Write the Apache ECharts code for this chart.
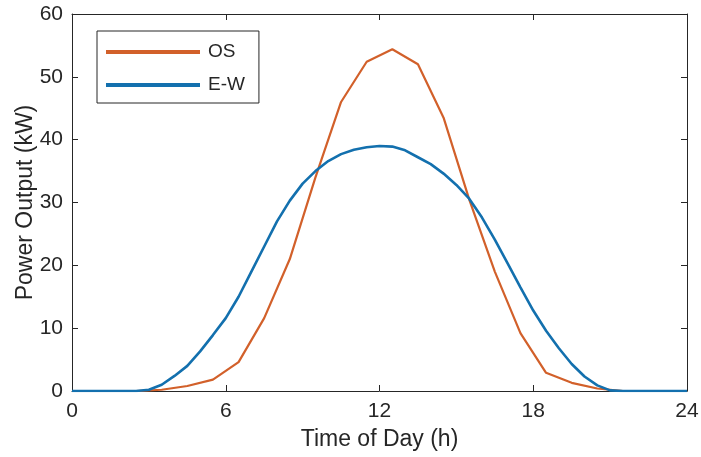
<!DOCTYPE html>
<html>
<head>
<meta charset="utf-8">
<script src="https://cdn.jsdelivr.net/npm/echarts@6/dist/echarts.min.js"></script>
<style>
  html, body { margin: 0; padding: 0; background: #fff; }
  #chart { width: 701px; height: 457px; }
</style>
</head>
<body>
<div id="chart"></div>
<script>
// hours for the OS curve (hourly samples at half past)
var osHours = [0, 0.5, 1.5, 2.5, 3.5, 4.5, 5.5, 6.5, 7.5, 8.5, 9.5, 10.5, 11.5,
    12.5, 13.5, 14.5, 15.5, 16.5, 17.5, 18.5, 19.5, 20.5, 21.5, 22.5, 23.5, 24];
var osPower = [0, 0, 0, 0, 0.2, 0.8, 1.8, 4.6, 11.6, 21, 34, 46, 52.4,
    54.4, 52, 43.5, 30.5, 19, 9.2, 2.9, 1.3, 0.4, 0, 0, 0, 0];

// hours for the E-W curve (half-hour samples)
var ewHours = [0, 0.5, 1, 1.5, 2, 2.5, 3, 3.5, 4, 4.5, 5, 5.5, 6, 6.5, 7, 7.5, 8, 8.5,
    9, 9.5, 10, 10.5, 11, 11.5, 12, 12.5, 13, 13.5, 14, 14.5, 15, 15.5, 16, 16.5,
    17, 17.5, 18, 18.5, 19, 19.5, 20, 20.5, 21, 21.5, 22, 22.5, 23, 23.5, 24];
var ewPower = [0, 0, 0, 0, 0, 0, 0.2, 1.0, 2.4, 4.0, 6.3, 8.9, 11.6, 15.0, 19.0, 23.0, 27.0, 30.3,
    33.0, 35.0, 36.6, 37.7, 38.4, 38.8, 39.0, 38.9, 38.3, 37.2, 36.1, 34.6, 32.8, 30.6, 27.6, 24.1,
    20.3, 16.5, 12.8, 9.6, 6.8, 4.3, 2.3, 0.9, 0.1, 0, 0, 0, 0, 0, 0];

var xTicks = [0, 6, 12, 18, 24];
var yTicks = [0, 10, 20, 30, 40, 50, 60];

function pairs(xs, ys) {
    var out = [];
    for (var i = 0; i < xs.length; i++) {
        out.push([xs[i], ys[i]]);
    }
    return out;
}

var ink = '#262626';
var font = 'Arial, "Liberation Sans", Helvetica, sans-serif';

// one axis side of the box; labels only on bottom/left
function axisSide(pos, ticks, step, extra) {
    var a = {
        type: 'value',
        position: pos,
        min: ticks[0],
        max: ticks[ticks.length - 1],
        interval: step,
        axisLine: { show: true, onZero: false, lineStyle: { color: ink, width: 1 } },
        axisTick: { show: true, inside: true, length: 6, lineStyle: { color: ink } },
        axisLabel: { show: false },
        splitLine: { show: false }
    };
    for (var k in extra) a[k] = extra[k];
    return a;
}

var myChart = echarts.init(document.getElementById('chart'));
var option = {
    backgroundColor: '#fff',
    animation: false,
    grid: { left: 72, right: 14, top: 14, bottom: 66, outerBoundsMode: 'none' },
    legend: {
        orient: 'vertical',
        left: 97,
        top: 31,
        padding: [11, 14, 8, 9],
        itemGap: 13,
        icon: 'rect',
        itemWidth: 94,
        itemHeight: 4,
        borderColor: ink,
        borderWidth: 1,
        backgroundColor: '#fff',
        textStyle: { color: ink, fontSize: 19, fontFamily: font, lineHeight: 20, padding: [0, 0, 0, 3] },
        data: ['OS', 'E-W']
    },
    xAxis: [
        axisSide('bottom', xTicks, 6, {
            name: 'Time of Day (h)',
            nameLocation: 'middle',
            nameGap: 37,
            nameTextStyle: { color: ink, fontSize: 23, fontFamily: font },
            axisLabel: { color: ink, fontSize: 21, fontFamily: font, margin: 10 }
        }),
        axisSide('top', xTicks, 6, {})
    ],
    yAxis: [
        axisSide('left', yTicks, 10, {
            name: 'Power Output (kW)',
            nameLocation: 'middle',
            nameGap: 35,
            nameMoveOverlap: false,
            nameTextStyle: { color: ink, fontSize: 23, fontFamily: font },
            axisLabel: { color: ink, fontSize: 21, fontFamily: font, margin: 9 }
        }),
        axisSide('right', yTicks, 10, {})
    ],
    series: [{
        name: 'OS',
        type: 'line',
        symbol: 'none',
        color: '#D2602A',
        lineStyle: { width: 2.2, color: '#D2602A' },
        data: pairs(osHours, osPower)
    }, {
        name: 'E-W',
        type: 'line',
        symbol: 'none',
        color: '#1370AE',
        lineStyle: { width: 2.6, color: '#1370AE' },
        data: pairs(ewHours, ewPower)
    }]
};
myChart.setOption(option);
</script>
</body>
</html>
